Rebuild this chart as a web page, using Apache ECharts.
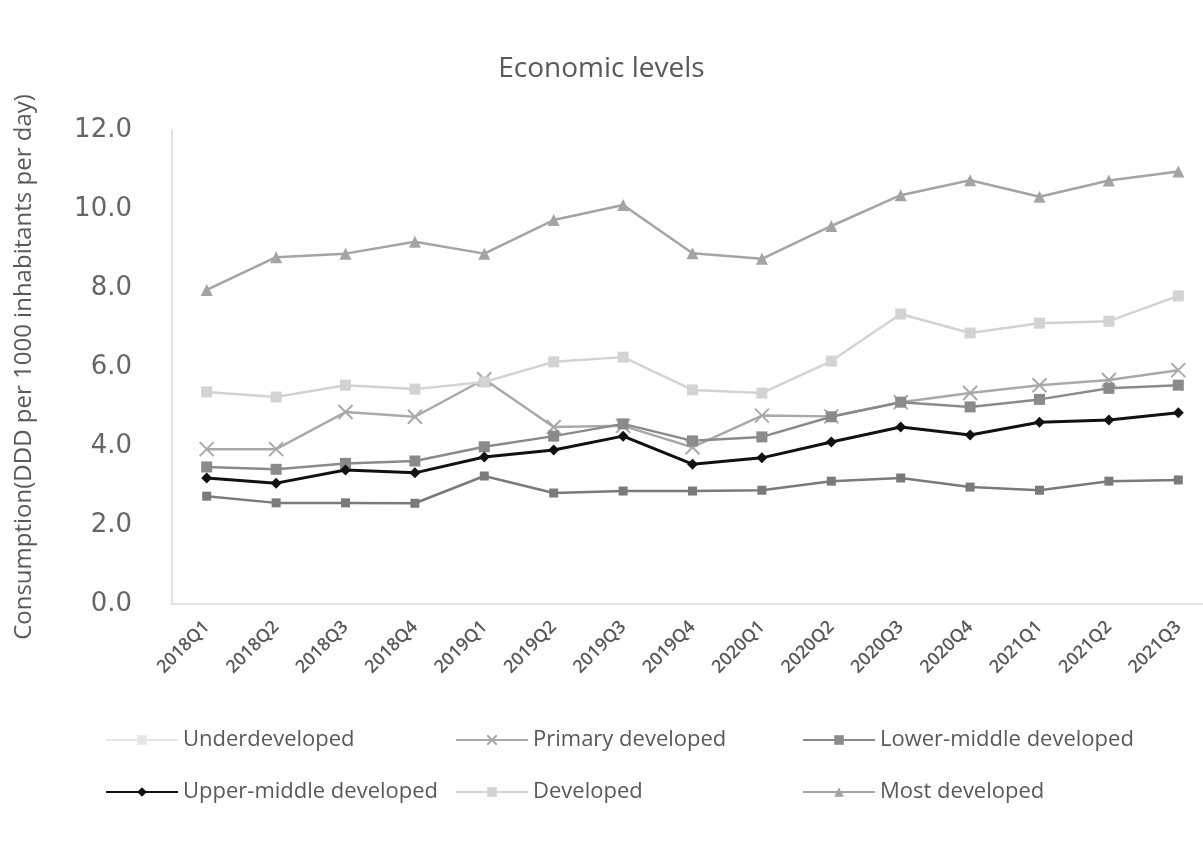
<!DOCTYPE html>
<html>
<head>
<meta charset="utf-8">
<script src="https://cdn.jsdelivr.net/npm/echarts@6/dist/echarts.min.js"></script>
<style>
  html, body { margin: 0; padding: 0; background: #fff; overflow: hidden; }
  #chart { width: 1203px; height: 847px; }
</style>
</head>
<body>
<div id="chart"></div>
<script>
// Quarterly antibiotic consumption by economic level
var quarters = ['2018Q1','2018Q2','2018Q3','2018Q4','2019Q1','2019Q2','2019Q3','2019Q4',
                '2020Q1','2020Q2','2020Q3','2020Q4','2021Q1','2021Q2','2021Q3'];

var underdeveloped      = [2.73, 2.56, 2.56, 2.55, 3.24, 2.81, 2.86, 2.86, 2.88, 3.11, 3.19, 2.96, 2.88, 3.11, 3.14];
var primaryDeveloped    = [3.92, 3.92, 4.86, 4.74, 5.69, 4.48, 4.51, 3.97, 4.77, 4.75, 5.11, 5.34, 5.54, 5.67, 5.92];
var lowerMiddle         = [3.47, 3.41, 3.56, 3.62, 3.98, 4.25, 4.56, 4.13, 4.23, 4.74, 5.11, 4.99, 5.18, 5.46, 5.54];
var upperMiddle         = [3.19, 3.06, 3.39, 3.32, 3.72, 3.90, 4.25, 3.54, 3.70, 4.10, 4.48, 4.28, 4.60, 4.66, 4.84];
var developed           = [5.37, 5.24, 5.54, 5.44, 5.62, 6.13, 6.25, 5.42, 5.34, 6.15, 7.34, 6.86, 7.11, 7.16, 7.80];
var mostDeveloped       = [7.95, 8.78, 8.87, 9.17, 8.87, 9.72, 10.10, 8.88, 8.74, 9.57, 10.35, 10.73, 10.31, 10.72, 10.95];

var yTicks = { min: 0, max: 12, interval: 2 };

var FONT = '"Open Sans", "Noto Sans", sans-serif';

function lineSeries(name, data, color, symbol, size, width) {
  return {
    name: name,
    type: 'line',
    data: data,
    symbol: symbol,
    symbolSize: size,
    showSymbol: true,
    lineStyle: { color: color, width: width },
    itemStyle: { color: color, borderColor: color, borderWidth: 0 }
  };
}

var crossPath = 'path://M0,0 L10,10 M10,0 L0,10';

var series = [
  lineSeries('Underdeveloped', underdeveloped, '#7a7a7a', 'rect', 9, 2.5),
  lineSeries('Primary developed', primaryDeveloped, '#a9a9a9', crossPath, 14, 2.5),
  lineSeries('Lower-middle developed', lowerMiddle, '#8a8a8a', 'rect', 11, 2.5),
  lineSeries('Upper-middle developed', upperMiddle, '#111111', 'diamond', 11, 3),
  lineSeries('Developed', developed, '#d3d3d3', 'rect', 11, 2.5),
  lineSeries('Most developed', mostDeveloped, '#a4a4a4', 'triangle', 12, 2.5)
];

// the "x" marker is a stroked path, so it needs a border rather than a fill
series[1].itemStyle = { color: 'none', borderColor: '#a9a9a9', borderWidth: 2 };

function legendAt(name, left, top, extra) {
  var item = { name: name };
  if (extra) { for (var k in extra) item[k] = extra[k]; }
  return {
    data: [item],
    left: left,
    top: top,
    itemWidth: 72,
    itemHeight: 12,
    itemGap: 0,
    selectedMode: false,
    textStyle: { fontFamily: FONT, fontSize: 22, color: '#595959' }
  };
}

var option = {
  backgroundColor: '#ffffff',
  animation: false,
  title: {
    text: 'Economic levels',
    left: 'center',
    top: 50,
    textStyle: { fontFamily: FONT, fontSize: 28, fontWeight: 'normal', color: '#595959' }
  },
  legend: [
    legendAt('Underdeveloped', 100, 724, {
      itemStyle: { color: '#e6e6e6', borderColor: '#e6e6e6' },
      lineStyle: { color: '#e6e6e6' }
    }),
    legendAt('Primary developed', 450, 724),
    legendAt('Lower-middle developed', 797, 724),
    legendAt('Upper-middle developed', 100, 776),
    legendAt('Developed', 450, 776),
    legendAt('Most developed', 797, 776)
  ],
  grid: { left: 172, top: 130, width: 1041, height: 474, containLabel: false, outerBoundsMode: 'none' },
  xAxis: {
    type: 'category',
    data: quarters,
    boundaryGap: true,
    axisLine: { lineStyle: { color: '#d9d9d9', width: 1.5 } },
    axisTick: { show: false },
    axisLabel: {
      rotate: 45,
      fontFamily: FONT,
      fontSize: 18,
      fontWeight: 600,
      color: '#595959',
      margin: 20
    }
  },
  yAxis: {
    type: 'value',
    min: yTicks.min,
    max: yTicks.max,
    interval: yTicks.interval,
    name: 'Consumption(DDD per 1000 inhabitants per day)',
    nameLocation: 'middle',
    nameGap: 136,
    nameRotate: 90,
    nameTextStyle: { fontFamily: FONT, fontSize: 24, color: '#595959' },
    axisLine: { show: true, lineStyle: { color: '#d9d9d9', width: 1.5 } },
    axisTick: { show: false },
    splitLine: { show: false },
    axisLabel: {
      fontFamily: '"DejaVu Sans", ' + FONT,
      fontSize: 26,
      color: '#666',
      margin: 40,
      formatter: function (v) { return v.toFixed(1); }
    }
  },
  series: series
};

var chart = echarts.init(document.getElementById('chart'), null, { renderer: 'canvas' });
chart.setOption(option);
</script>
</body>
</html>
